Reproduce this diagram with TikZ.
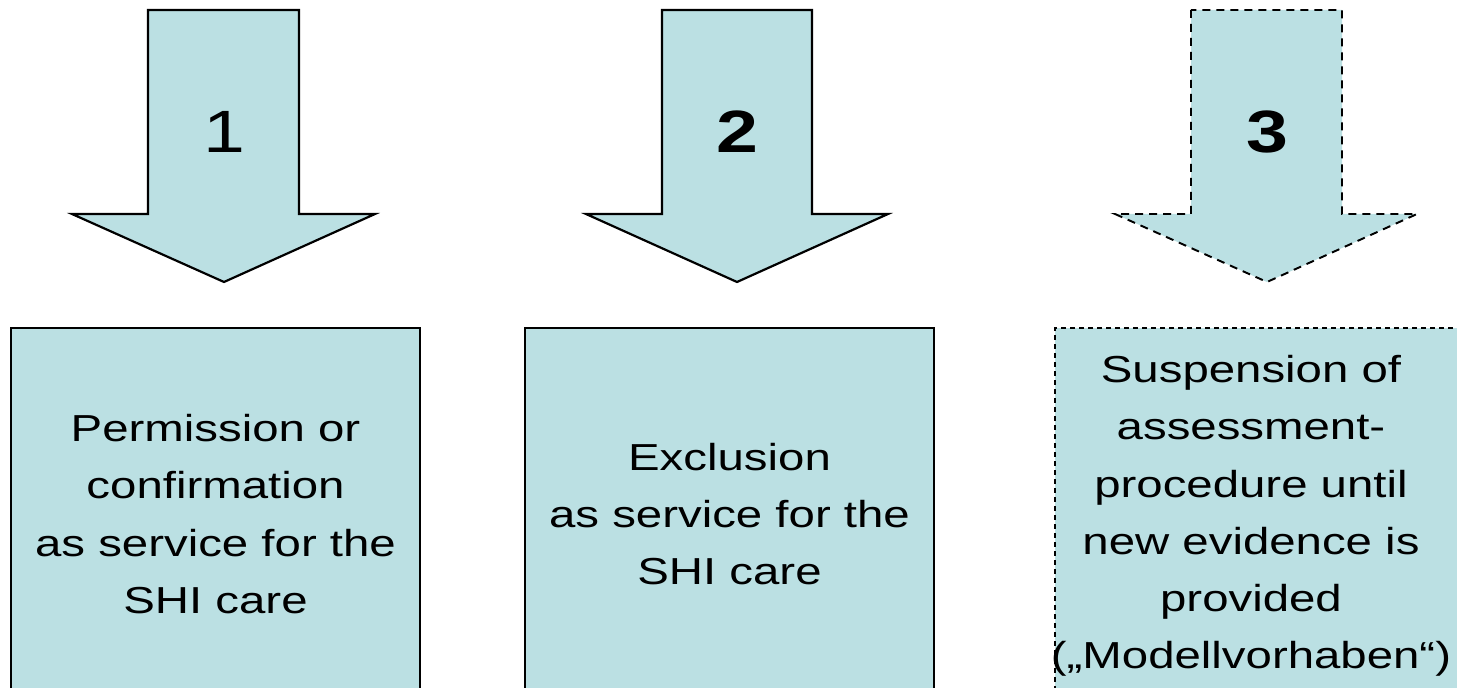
\documentclass[tikz,border=0pt]{standalone}
\usepackage{fontspec}
\setmainfont{Liberation Sans}
\newfontfamily\widesans[FakeStretch=1.26]{Liberation Sans}
\usetikzlibrary{positioning}
\definecolor{panel}{RGB}{187,224,227}

\begin{document}
\begin{tikzpicture}[
    x=0.02cm, y=-0.02cm,
    arrowshape/.style={
        fill=panel,
        draw=black,
        line width=1.25pt,
        line join=miter
    },
    tentative/.style={
        line width=1.1pt,
        dash pattern=on 0.16cm off 0.12cm
    },
    numlbl/.style={font=\widesans\fontsize{34}{40}\selectfont, anchor=base, inner sep=0pt},
    resultbox/.style={
        draw,
        fill=panel,
        line width=1.25pt,
        minimum width=8.18cm,
        minimum height=7.44cm,
        align=center,
        inner sep=0pt,
        font=\widesans\fontsize{21.4}{32.6}\selectfont
    }
]
\useasboundingbox (0,0) rectangle (1457,688);
\clip (0,0) rectangle (1457,688);

% === Arrow 1: Permission ===
\draw[arrowshape] (148,10) -- (148,214) -- (72,214) -- (224,282)
    -- (375,214) -- (299,214) -- (299,10) -- cycle;
\node[numlbl] (n1) at (224,153) {1};

% === Arrow 2: Exclusion ===
\draw[arrowshape] (662,10) -- (662,214) -- (586,214) -- (737,282)
    -- (888,214) -- (812,214) -- (812,10) -- cycle;
\node[numlbl, font=\widesans\bfseries\fontsize{34}{40}\selectfont] (n2) at (737,153) {2};

% === Arrow 3: Suspension (dashed) ===
\draw[arrowshape, tentative] (1191,10) -- (1191,214) -- (1115,214) -- (1267,282)
    -- (1417,214) -- (1342,214) -- (1342,10) -- cycle;
\node[numlbl, font=\widesans\bfseries\fontsize{34}{40}\selectfont] (n3) at (1267,153) {3};

% === Result boxes ===
\node[resultbox] (perm) at (215.5,514) {Permission or\\confirmation\\as service for the\\SHI care};
\node[resultbox] (excl) at (729.5,514) {Exclusion\\as service for the\\SHI care};
\node[resultbox, line width=1pt, dash pattern=on 0.1cm off 0.08cm] (susp) at (1259.5,514) {};
\node[font=\widesans\fontsize{21.4}{32.6}\selectfont, align=center, inner sep=0pt]
    (susptext) at (1251,516) {Suspension of\\assessment-\\procedure until\\new evidence is\\provided\\(„Modellvorhaben“)};

\end{tikzpicture}
\end{document}
